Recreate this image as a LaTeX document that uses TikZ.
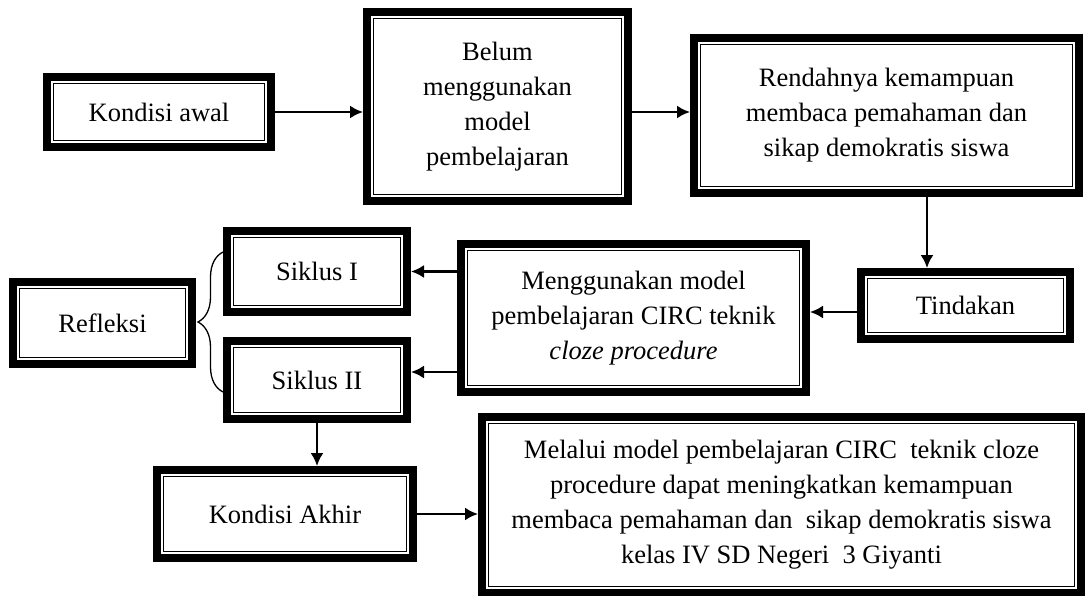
\documentclass[tikz,border=0pt]{standalone}
\usepackage{fontspec}
\setmainfont{Liberation Serif}
\usetikzlibrary{arrows.meta, decorations.pathreplacing}
\tikzstyle{block} = [draw, line width=1.8pt, fill=white, align=center, inner sep=0pt, outer sep=10.5pt,
  font=\fontsize{26.5}{35}\selectfont,
  append after command={\pgfextra{\draw[line width=8pt]
    ([shift={(4pt,-4pt)}]\tikzlastnode.north west) rectangle
    ([shift={(-4pt,4pt)}]\tikzlastnode.south east);}}]
\tikzstyle{line} = [draw, line width=2.2pt, -{Latex[length=13pt,width=13pt]}]
\tikzstyle{curly} = [draw, line width=1.3pt, decorate, decoration={brace, amplitude=25pt}]
\newcommand{\stagebox}[4]{
node (#1) [block, minimum width=#2pt-21pt, minimum height=#3pt-21pt] {#4}}

\begin{document}
\begin{tikzpicture}[x=1pt, y=-1pt]
		\useasboundingbox (0,0) rectangle (1088,595);

		% Draw diagram elements
		\path (159,112) \stagebox{awal}{232}{78}{Kondisi awal};
		\path (awal)+(338.5,-5.5) \stagebox{belum}{269}{197}{Belum\\menggunakan\\model\\pembelajaran};
		\path (belum)+(389,9) \stagebox{rendah}{393}{163}{Rendahnya kemampuan\\membaca pemahaman dan\\sikap demokratis siswa};
		\path (rendah)+(79,190) \stagebox{tindakan}{217}{75}{Tindakan};
		\path (tindakan)+(-332,12.5) \stagebox{guna}{353}{156}{Menggunakan model\\pembelajaran CIRC teknik\\\textit{cloze procedure}};
		\path (guna)+(-316.5,-46.5) \stagebox{siklus1}{188}{89}{Siklus I};
		\path (siklus1)+(0,108.5) \stagebox{siklus2}{188}{86}{Siklus II};
		\path (siklus1)+(-214.5,51.5) \stagebox{refleksi}{187}{90}{Refleksi};
		\path (siklus2)+(-32,134) \stagebox{akhir}{264}{96}{Kondisi Akhir};
		\path (akhir)+(496.5,-9) \stagebox{melalui}{607}{184}{Melalui model pembelajaran CIRC~ teknik cloze\\procedure dapat meningkatkan kemampuan\\membaca pemahaman dan~ sikap demokratis siswa\\kelas IV SD Negeri~ 3 Giyanti};

		% Draw arrows between elements
		\coordinate (tin) at ([yshift=-6.5pt]tindakan.west);
		\coordinate (s2in) at ([yshift=8pt]siklus2.east);
		\path [line] (awal.east) -- (awal.east -| belum.west);
		\path [line] (awal.east -| belum.east) -- (awal.east -| rendah.west);
		\path [line] ([xshift=40.5pt]rendah.south) -- ([xshift=-38.5pt]tindakan.north);
		\path [line] (tin) -- (tin -| guna.east);
		\path [line] (siklus1.east -| guna.west) -- (siklus1.east);
		\path [line] (s2in -| guna.west) -- (s2in);
		\path [line] (siklus2.south) -- (siklus2.south |- akhir.north);
		\path [line] (akhir.east) -- (akhir.east -| melalui.west);
		\draw [curly] ([yshift=-12pt]siklus2.west) -- ([yshift=19.5pt]siklus1.west);

\end{tikzpicture}
\end{document}
